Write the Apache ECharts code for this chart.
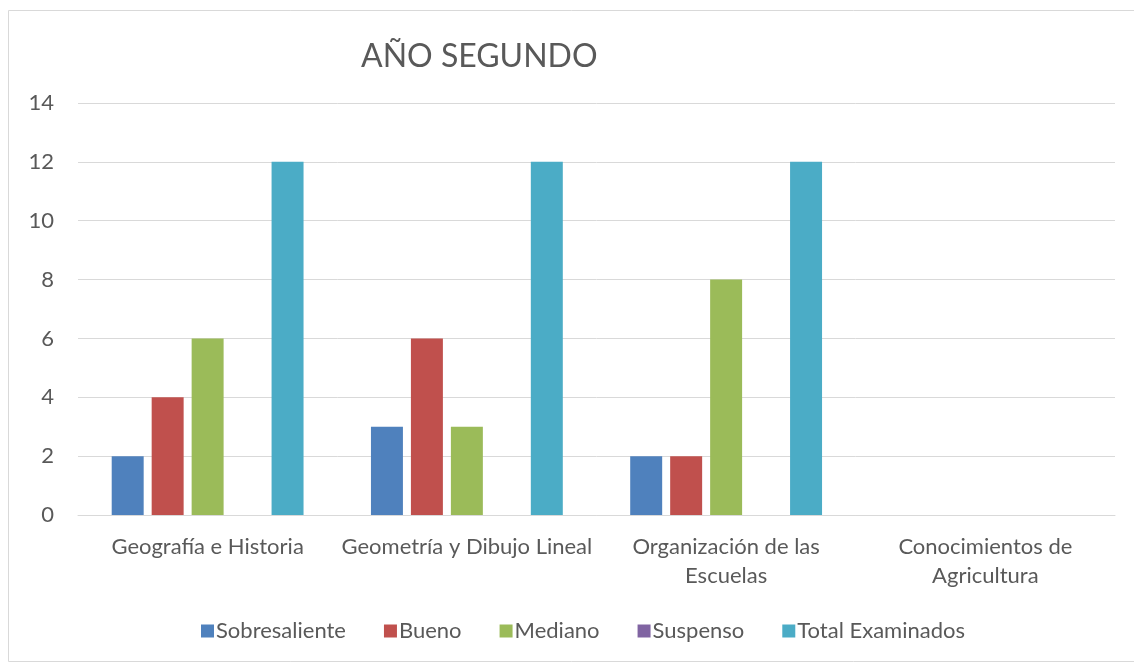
<!DOCTYPE html>
<html><head><meta charset="utf-8">
<script src="https://cdn.jsdelivr.net/npm/echarts@6/dist/echarts.min.js"></script>
<style>html,body{margin:0;padding:0;background:#fff}#c{width:1134px;height:666px}</style>
</head><body><div id="c"></div>
<script>
const categories = ["Geografía e Historia", "Geometría y Dibujo Lineal", "Organización de las\nEscuelas", "Conocimientos de\nAgricultura"];
const seriesNames = ["Sobresaliente", "Bueno", "Mediano", "Suspenso", "Total Examinados"];
const sobresaliente = [2, 3, 2, 0];
const bueno = [4, 6, 2, 0];
const mediano = [6, 3, 8, 0];
const suspenso = [0, 0, 0, 0];
const totalExaminados = [12, 12, 12, 0];
const colors = ["#4F81BD", "#C0504D", "#9BBB59", "#8064A2", "#4BACC6"];
const values = [sobresaliente, bueno, mediano, suspenso, totalExaminados];
const font = "Lato, 'Open Sans', sans-serif";

const chart = echarts.init(document.getElementById('c'));
chart.setOption({
  animation: false,
  graphic: [{type:'rect', shape:{x:8.5,y:10.5,width:1140,height:651}, style:{fill:'none', stroke:'#d9d9d9', lineWidth:1}}],
  title: {text: 'AÑO SEGUNDO', left: 356, top: 36, textStyle:{fontFamily: font, fontSize: 32, fontWeight: 'normal', color: '#595959'}},
  grid: {left: 78, right: 19, top: 103, bottom: 151},
  legend: {bottom: 19, left: 196, itemWidth: 13, itemHeight: 13, itemGap: 38, icon: 'rect',
    textStyle:{fontFamily: font, fontSize: 22, color:'#595959', padding:[0,0,0,-3]}, data: seriesNames},
  xAxis: {type:'category', data: categories,
    axisLine:{lineStyle:{color:'#d9d9d9', width:1}}, axisTick:{show:false},
    axisLabel:{fontFamily: font, fontSize: 22, color:'#595959', margin: 17, lineHeight: 29, interval: 0}},
  yAxis: {type:'value', min:0, max:14, interval:2,
    axisLine:{show:false}, axisTick:{show:false},
    splitLine:{lineStyle:{color:'#d9d9d9', width:1}},
    axisLabel:{fontFamily: font, fontSize: 22, color:'#595959', margin: 24, align:'right'}},
  series: seriesNames.map((n,i)=>({
    name: n, type:'bar', data: values[i], barGap:'25%', barCategoryGap:'26%',
    itemStyle:{color: colors[i]}
  }))
});
</script></body></html>
